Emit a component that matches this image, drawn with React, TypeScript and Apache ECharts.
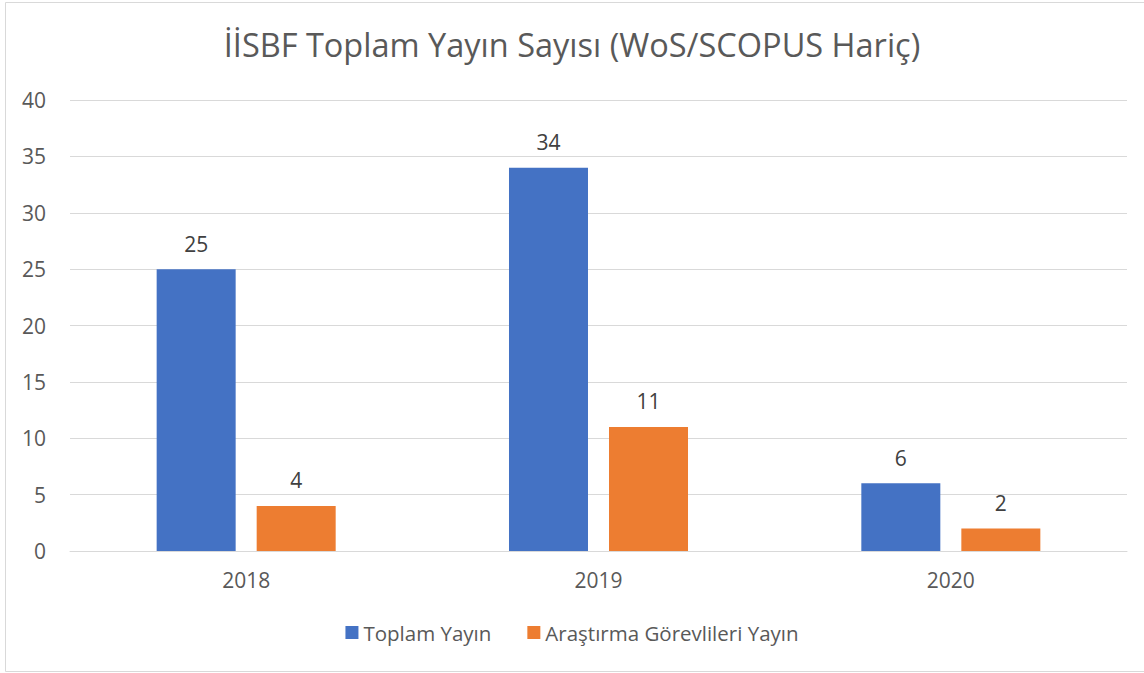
import React, { useEffect, useRef } from "react";
import * as echarts from "echarts";

const categories = ["2018", "2019", "2020"];
const seriesNames = ["Toplam Yayın", "Araştırma Görevlileri Yayın"];
const toplamYayin = [25, 34, 6];
const arastirmaYayin = [4, 11, 2];
const titleText = "İİSBF Toplam Yayın Sayısı (WoS/SCOPUS Hariç)";

const FONT = "'Open Sans', 'Noto Sans', sans-serif";

export default function App() {
  const ref = useRef<HTMLDivElement>(null);
  useEffect(() => {
    if (!ref.current) return;
    const chart = echarts.init(ref.current, undefined, { renderer: "svg" });
    chart.setOption({
      animation: false,
      backgroundColor: "#ffffff",
      textStyle: { fontFamily: FONT },
      title: {
        text: titleText,
        left: "center",
        top: 23,
        textStyle: { fontFamily: FONT, fontSize: 32.5, fontWeight: "normal", color: "#595959" },
      },
      legend: {
        bottom: 25,
        left: "center",
        itemWidth: 13,
        itemHeight: 13,
        itemGap: 36,
        icon: "rect",
        textStyle: { fontFamily: FONT, fontSize: 20.5, color: "#595959", padding: [0, 0, 0, 0] },
        data: seriesNames,
      },
      graphic: [
        {
          type: "rect",
          shape: { x: 5.5, y: 2.5, width: 1145, height: 669 },
          style: { fill: "none", stroke: "#d9d9d9", lineWidth: 1 },
          silent: true,
        },
      ],
      grid: { left: 70, right: 17, top: 100, bottom: 122, containLabel: false },
      xAxis: {
        type: "category",
        data: categories,
        axisLine: { lineStyle: { color: "#d9d9d9", width: 1 } },
        axisTick: { show: false },
        axisLabel: { fontFamily: FONT, fontSize: 21, color: "#595959", margin: 18 },
      },
      yAxis: {
        type: "value",
        min: 0,
        max: 40,
        interval: 5,
        axisLine: { show: false },
        axisTick: { show: false },
        splitLine: { lineStyle: { color: "#d9d9d9", width: 1 } },
        axisLabel: { fontFamily: FONT, fontSize: 21, color: "#595959", margin: 24 },
      },
      series: [
        {
          name: seriesNames[0],
          type: "bar",
          data: toplamYayin,
          barWidth: 79,
          barGap: "26.6%",
          itemStyle: { color: "#4472c4" },
          label: { show: true, position: "top", distance: 15, fontFamily: FONT, fontSize: 21, color: "#404040" },
        },
        {
          name: seriesNames[1],
          type: "bar",
          data: arastirmaYayin,
          barWidth: 79,
          itemStyle: { color: "#ed7d31" },
          label: { show: true, position: "top", distance: 15, fontFamily: FONT, fontSize: 21, color: "#404040" },
        },
      ],
    });
    return () => chart.dispose();
  }, []);
  return (
    <div
      ref={ref}
      style={{ position: "fixed", left: 0, top: 0, width: 1144, height: 673, background: "#fff" }}
    />
  );
}
